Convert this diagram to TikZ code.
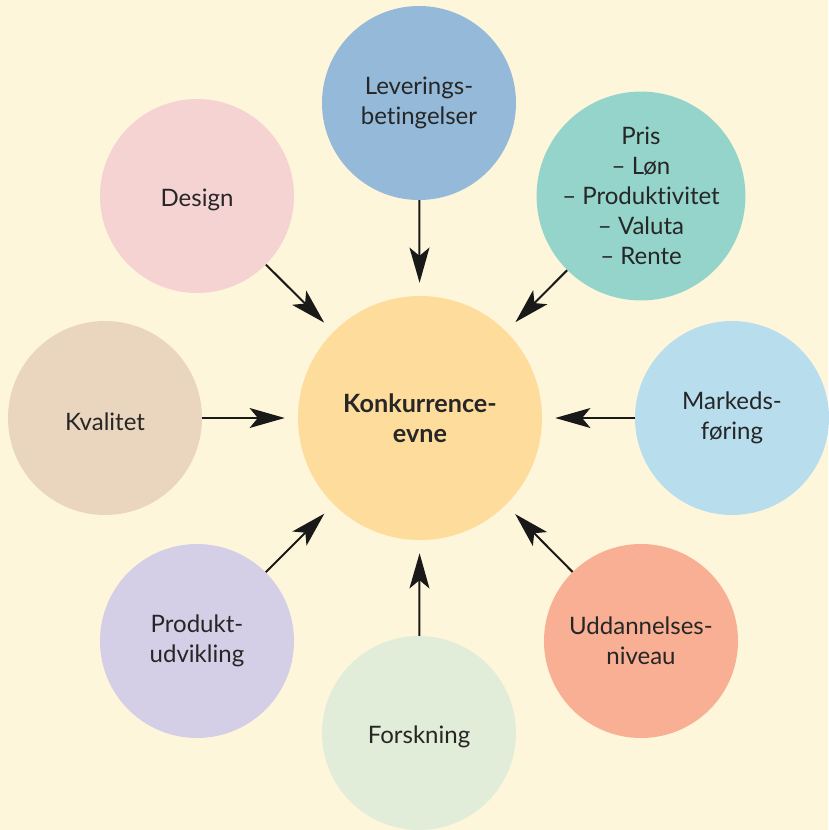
\documentclass[tikz,border=0pt]{standalone}
\usepackage{fontspec}
\setmainfont[Ligatures=NoCommon]{Lato}
\usepackage{tikz}
\usetikzlibrary{arrows.meta}

\definecolor{bgyellow}{HTML}{FEF6DA}
\definecolor{centerorange}{HTML}{FEDC9C}
\definecolor{levblue}{HTML}{95BAD9}
\definecolor{pristeal}{HTML}{95D4CB}
\definecolor{markblue}{HTML}{B8DEEE}
\definecolor{uddsalmon}{HTML}{F8AF93}
\definecolor{forskgreen}{HTML}{E2EDD9}
\definecolor{prodlilac}{HTML}{D4CFE6}
\definecolor{kvalbeige}{HTML}{EAD6BE}
\definecolor{designpink}{HTML}{F6D3D3}

\begin{document}
\begin{tikzpicture}[x=0.03cm, y=-0.03cm,
        factor/.style={circle, minimum size=5.82cm, inner sep=0pt, align=center,
            font=\fontsize{20.5}{25.5}\selectfont, text=black!85,
            execute at begin node={\rule{0pt}{22pt}}},
        hub/.style={circle, minimum size=7.32cm, inner sep=0pt, align=center,
            font=\fontsize{21.5}{25.5}\selectfont\bfseries, text=black!85},
        pull/.style={-{Stealth[length=30pt, width=17pt, inset=7pt]}, line width=1.7pt,
            draw=black!90, shorten >=0.39cm}]

        % Background
        \fill[bgyellow] (0,0) rectangle (828,830);
        \useasboundingbox (0,0) rectangle (828,830);

        % Centre
        \node[hub, fill=centerorange] (evne) at (420,418) {Konkurrence-\\evne};

        % Factors around the centre
        \node[factor, fill=levblue] (levering) at (419,103) {Leverings-\\betingelser};
        \node[factor, fill=pristeal] (pris) at (641,196)
            {Pris\\– Løn\\– Produktivitet\\– Valuta\\– Rente};
        \node[factor, fill=markblue] (marked) at (732,418) {Markeds-\\føring};
        \node[factor, fill=uddsalmon] (uddannelse) at (641,641) {Uddannelses-\\niveau};
        \node[factor, fill=forskgreen] (forskning) at (419,733) {Forskning};
        \node[factor, fill=prodlilac] (produkt) at (197,641) {Produkt-\\udvikling};
        \node[factor, fill=kvalbeige] (kvalitet) at (105,418) {Kvalitet};
        \node[factor, fill=designpink] (design) at (197,196) {Design};

        % Arrows into the centre
        \draw[pull] (levering) -- (evne);
        \draw[pull] (pris) -- (evne);
        \draw[pull] (marked) -- (evne);
        \draw[pull] (uddannelse) -- (evne);
        \draw[pull] (forskning) -- (evne);
        \draw[pull] (produkt) -- (evne);
        \draw[pull] (kvalitet) -- (evne);
        \draw[pull] (design) -- (evne);

    \end{tikzpicture}
\end{document}
